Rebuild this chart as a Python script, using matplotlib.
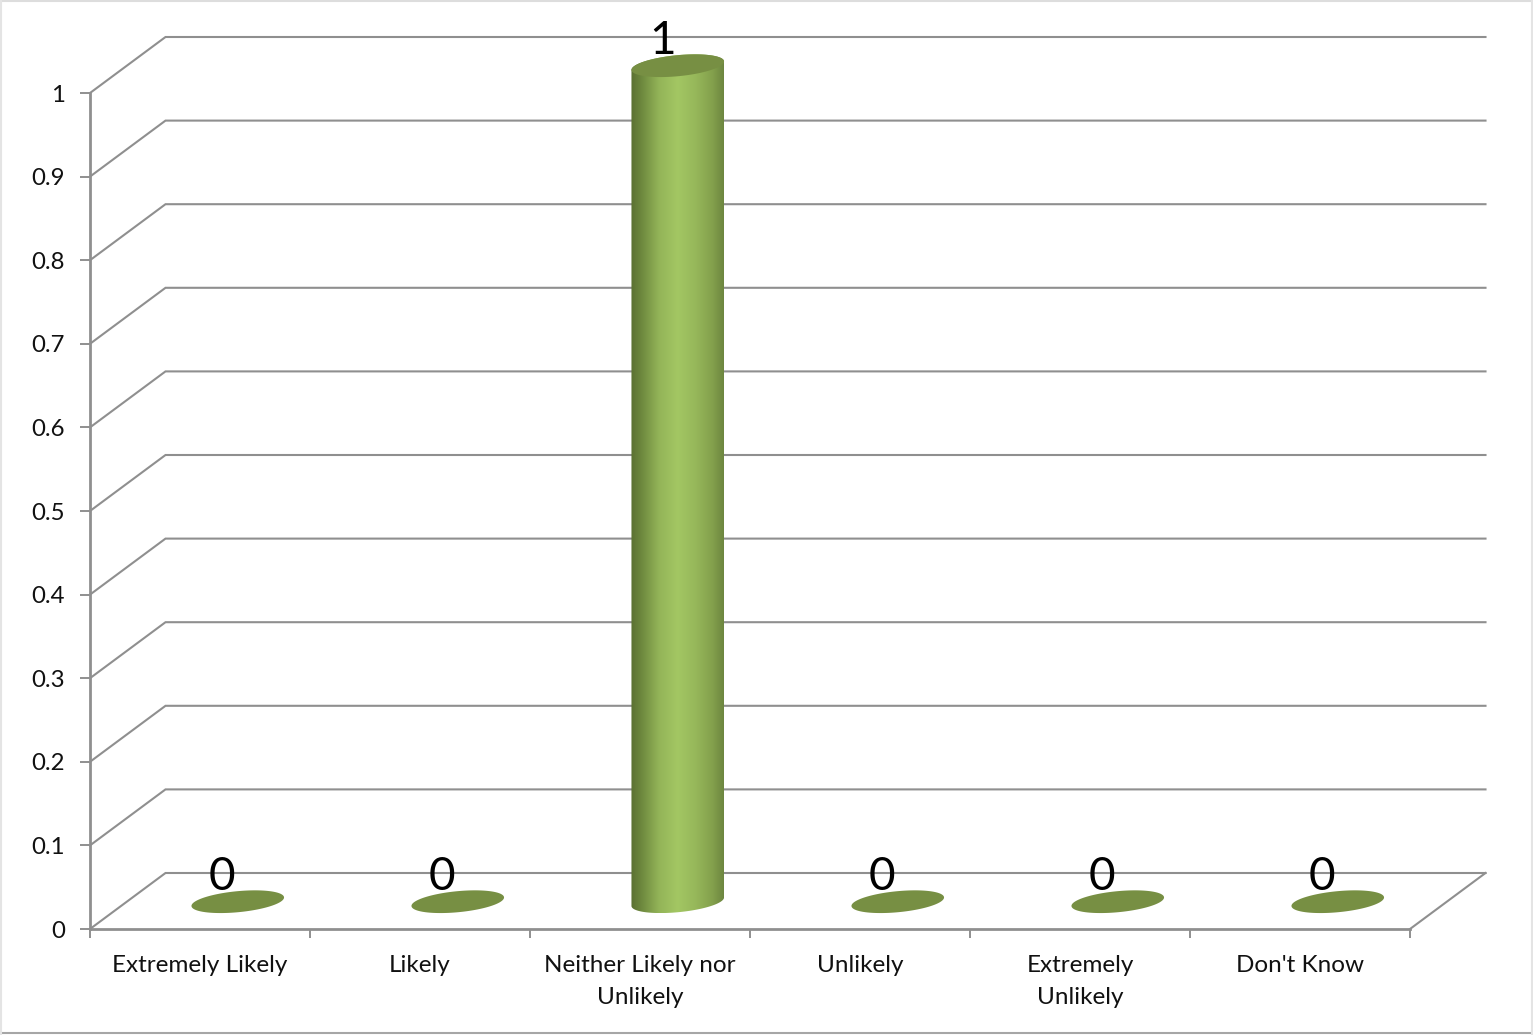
import numpy as np
import matplotlib
matplotlib.use("Agg")
import matplotlib.pyplot as plt
from matplotlib.colors import LinearSegmentedColormap
from matplotlib.lines import Line2D
from matplotlib.patches import Polygon

categories = ["Extremely Likely", "Likely", "Neither Likely nor\nUnlikely",
              "Unlikely", "Extremely\nUnlikely", "Don't Know"]
values = [0, 0, 1, 0, 0, 0]
y_ticks = [0, 0.1, 0.2, 0.3, 0.4, 0.5, 0.6, 0.7, 0.8, 0.9, 1]
y_tick_labels = ["0", "0.1", "0.2", "0.3", "0.4", "0.5", "0.6", "0.7", "0.8", "0.9", "1"]

plt.rcParams["font.family"] = ["Lato", "DejaVu Sans"]
W, H = 1533, 1035
PX_X = 220.0   # pixels per category
PX_Y = 836.0   # pixels per unit of value
X0, Y0 = 90.0, 929.0
GREY = "#8f8f8f"

fig = plt.figure(figsize=(W / 100, H / 100), dpi=100, facecolor="white")
ax = fig.add_axes([0, 0, 1, 1])
ax.set_xlim(-X0 / PX_X, (W - X0) / PX_X)
ax.set_ylim(-(H - Y0) / PX_Y, Y0 / PX_Y)
ax.patch.set_alpha(0)

DX = 75.5 / PX_X
DY = 56.0 / PX_Y
n = len(categories)

# walls and floor
for v in y_ticks:
    ax.plot([0, DX, n + DX], [v, v + DY, v + DY], color=GREY, lw=1.5,
            solid_joinstyle="miter", zorder=1)
ax.plot([n, n + DX], [0, DY], color=GREY, lw=1.5, zorder=1)

# spines and ticks
for s in ("top", "right"):
    ax.spines[s].set_visible(False)
for s in ("left", "bottom"):
    ax.spines[s].set_position(("data", 0))
    ax.spines[s].set_color(GREY)
    ax.spines[s].set_linewidth(2)
    ax.spines[s].set_zorder(2)
ax.spines["left"].set_bounds(0, 1)
ax.spines["bottom"].set_bounds(0, n)
ax.set_yticks(y_ticks)
ax.set_yticklabels(y_tick_labels)
ax.tick_params(axis="y", length=7.2, width=1.4, color=GREY, pad=11,
               labelsize=17.3, labelcolor="#111111")
ax.set_xticks(np.arange(n + 1))
ax.set_xticklabels([])
ax.tick_params(axis="x", which="major", length=6.5, width=1.4, color=GREY)
ax.set_xticks(np.arange(n) + 0.5, minor=True)
ax.set_xticklabels(categories, minor=True, linespacing=1.66)
ax.tick_params(axis="x", which="minor", length=0, pad=18.5,
               labelsize=17.5, labelcolor="#111111")


def ellipse_xy(cx, cy, a=46.5, b=10.5, ang=5.5, t=None):
    """Tilted ellipse around a data point, sized in pixels, returned in data units."""
    if t is None:
        t = np.linspace(0, 2 * np.pi, 121)
    th = np.deg2rad(ang)
    px = a * np.cos(t) * np.cos(th) - b * np.sin(t) * np.sin(th)
    py = a * np.cos(t) * np.sin(th) + b * np.sin(t) * np.cos(th)
    return cx + px / PX_X, cy + py / PX_Y


cmap = LinearSegmentedColormap.from_list(
    "cyl", [(0, "#5a7032"), (0.12, "#6f8a3f"), (0.3, "#93b458"), (0.5, "#a3c763"),
            (0.7, "#96b75a"), (0.88, "#83a04c"), (1, "#6d8640")])

for i, v in enumerate(values):
    cx = i + 0.5 + DX / 2
    cy = (DY * PX_Y / 2 - 0.7) / PX_Y
    if v > 0:
        t_top = np.linspace(np.pi, 0, 60)          # upper arc, left to right
        t_bot = np.linspace(2 * np.pi, np.pi, 60)  # lower arc, right to left
        xt, yt = ellipse_xy(cx, cy + v, t=t_top)
        xb, yb = ellipse_xy(cx, cy, t=t_bot)
        verts = np.column_stack([np.r_[xt, xb], np.r_[yt, yb]])
        x_min, x_max = verts[:, 0].min(), verts[:, 0].max()
        y_min, y_max = verts[:, 1].min(), verts[:, 1].max()
        im = ax.imshow(np.linspace(0, 1, 256)[None, :], cmap=cmap, aspect="auto",
                       extent=(x_min, x_max, y_min, y_max), zorder=3, origin="lower")
        im.set_clip_path(Polygon(verts, closed=True, transform=ax.transData))
    ex, ey = ellipse_xy(cx, cy + v)
    ax.add_patch(Polygon(np.column_stack([ex, ey]), closed=True, facecolor="#778f43",
                         edgecolor="none", zorder=4))
    ax.text(cx - 15.5 / PX_X, cy + v + 28.7 / PX_Y, str(v), ha="center", va="center_baseline",
            fontsize=33, color="#000000", zorder=5)

# imshow resets limits
ax.set_xlim(-X0 / PX_X, (W - X0) / PX_X)
ax.set_ylim(-(H - Y0) / PX_Y, Y0 / PX_Y)

# chart frame
for (xs, ys, c, lw) in [([0, 1], [0.9995, 0.9995], "#dddddd", 1.5),
                        ([0, 1], [0.0015, 0.0015], "#a6a6a6", 1.5),
                        ([0.0004, 0.0004], [0, 1], "#e4e4e4", 1.5),
                        ([0.9994, 0.9994], [0, 1], "#e4e4e4", 1.5)]:
    fig.add_artist(Line2D(xs, ys, color=c, lw=lw, transform=fig.transFigure))

fig.savefig("out.png", dpi=100, facecolor="white")
